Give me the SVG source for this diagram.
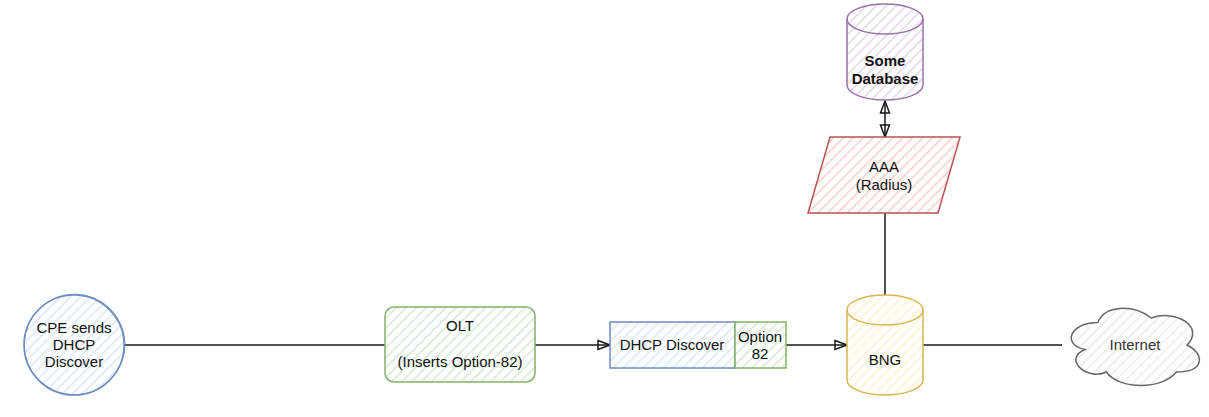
<svg xmlns="http://www.w3.org/2000/svg" width="1209" height="417" viewBox="0 0 1209 417">
<style>
text{font-family:"Liberation Sans",Arial,sans-serif;font-size:15px;fill:#111111;text-anchor:middle}
.edge{fill:none;stroke:#1a1a1a;stroke-width:1.5}
</style>
<defs>
<pattern id="hBlue" width="7" height="7" patternUnits="userSpaceOnUse" patternTransform="rotate(45)"><rect width="7" height="7" fill="#ffffff"/><line x1="0" y1="0" x2="0" y2="7" stroke="#dae8fc" stroke-width="3"/></pattern>
<pattern id="hGreen" width="7" height="7" patternUnits="userSpaceOnUse" patternTransform="rotate(45)"><rect width="7" height="7" fill="#ffffff"/><line x1="0" y1="0" x2="0" y2="7" stroke="#d5e8d4" stroke-width="3"/></pattern>
<pattern id="hYellow" width="7" height="7" patternUnits="userSpaceOnUse" patternTransform="rotate(45)"><rect width="7" height="7" fill="#ffffff"/><line x1="0" y1="0" x2="0" y2="7" stroke="#fff2cc" stroke-width="3"/></pattern>
<pattern id="hRed" width="7" height="7" patternUnits="userSpaceOnUse" patternTransform="rotate(45)"><rect width="7" height="7" fill="#ffffff"/><line x1="0" y1="0" x2="0" y2="7" stroke="#f8cecc" stroke-width="3"/></pattern>
<pattern id="hPurple" width="7" height="7" patternUnits="userSpaceOnUse" patternTransform="rotate(45)"><rect width="7" height="7" fill="#ffffff"/><line x1="0" y1="0" x2="0" y2="7" stroke="#e1d5e7" stroke-width="3"/></pattern>
<pattern id="hGrey" width="7" height="7" patternUnits="userSpaceOnUse" patternTransform="rotate(45)"><rect width="7" height="7" fill="#ffffff"/><line x1="0" y1="0" x2="0" y2="7" stroke="#ececec" stroke-width="3"/></pattern>
<marker id="arr" viewBox="0 0 14 12" refX="13" refY="6" markerWidth="14" markerHeight="12" markerUnits="userSpaceOnUse" orient="auto-start-reverse"><path d="M1,1.5 L13,6 L1,10.5 Z" fill="none" stroke="#1a1a1a" stroke-width="1.5"/></marker>
</defs>

<g id="connectors">
<path class="edge" d="M124,345 L385,345"/>
<path class="edge" d="M535,345 L610,345" marker-end="url(#arr)"/>
<path class="edge" d="M786,345 L847,345" marker-end="url(#arr)"/>
<path class="edge" d="M923,345 L1062,345"/>
<path class="edge" d="M885,295 L885,213"/>
<path class="edge" d="M885,101 L885,137" marker-start="url(#arr)" marker-end="url(#arr)"/>
</g>

<g id="cpe">
<circle cx="74" cy="345" r="50" fill="url(#hBlue)" stroke="#6c8ebf" stroke-width="1.5"/>
<circle cx="74.6" cy="344.5" r="50.4" fill="none" stroke="#6c8ebf" stroke-width="1"/>
<text x="74" y="333">CPE sends</text>
<text x="74" y="350">DHCP</text>
<text x="74" y="367">Discover</text>
</g>

<g id="olt">
<rect x="385" y="307" width="150" height="75" rx="9" fill="url(#hGreen)" stroke="#82b366" stroke-width="1.5"/>
<text x="460" y="331">OLT</text>
<text x="460" y="367">(Inserts Option-82)</text>
</g>

<g id="dhcp">
<rect x="610" y="322" width="125" height="46" fill="url(#hBlue)" stroke="#6c8ebf" stroke-width="1.5"/>
<text x="672" y="350">DHCP Discover</text>
</g>

<g id="opt82">
<rect x="735" y="322" width="51" height="46" fill="url(#hGreen)" stroke="#82b366" stroke-width="1.5"/>
<text x="760" y="342">Option</text>
<text x="760" y="359">82</text>
</g>

<g id="bng">
<path d="M847,310 A38,15 0 0 1 923,310 L923,380 A38,15 0 0 1 847,380 Z" fill="url(#hYellow)" stroke="#d6b656" stroke-width="1.5"/>
<path d="M847,310 A38,15 0 0 0 923,310" fill="none" stroke="#d6b656" stroke-width="1.5"/>
<text x="885" y="365">BNG</text>
</g>

<g id="aaa">
<path d="M830,137 L960,137 L938,213 L808,213 Z" fill="url(#hRed)" stroke="#b85450" stroke-width="1.5"/>
<text x="884" y="172">AAA</text>
<text x="884" y="190">(Radius)</text>
</g>

<g id="db">
<path d="M847,19 A38,15 0 0 1 923,19 L923,85 A38,15 0 0 1 847,85 Z" fill="url(#hPurple)" stroke="#9673a6" stroke-width="1.5"/>
<path d="M847,19 A38,15 0 0 0 923,19" fill="none" stroke="#9673a6" stroke-width="1.5"/>
<text x="885" y="66" font-weight="bold">Some</text>
<text x="885" y="84" font-weight="bold">Database</text>
</g>

<g id="internet">
<path d="M1097.75,322.5 C1069.15,322.5 1062,345 1084.88,349.5 C1062,359.4 1087.74,381 1106.33,372 C1119.2,390 1162.1,390 1176.4,372 C1205,372 1205,354 1187.1,345 C1205,327 1176.4,309 1151.4,318 C1133.5,304.5 1104.9,304.5 1097.75,322.5 Z" fill="url(#hGrey)" stroke="#666666" stroke-width="1.5"/>
<text x="1135" y="350" style="fill:#333333">Internet</text>
</g>
</svg>
